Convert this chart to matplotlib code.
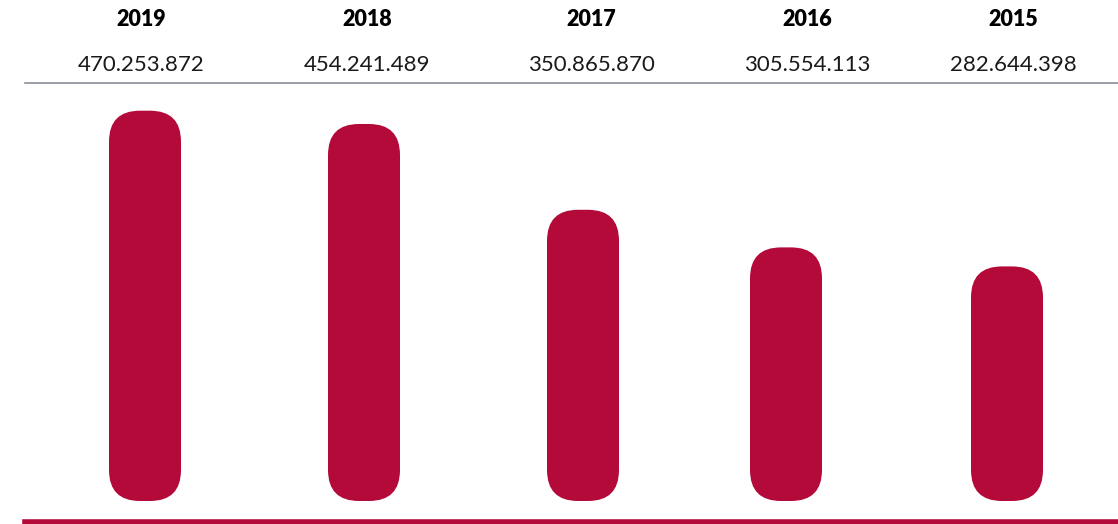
import matplotlib
matplotlib.use("Agg")
from matplotlib import pyplot as plt
from matplotlib.patches import FancyBboxPatch

years = ["2019", "2018", "2017", "2016", "2015"]
values = [470253872, 454241489, 350865870, 305554113, 282644398]

W, H = 1118, 524
red = "#b30a3a"

# layout in pixels
bar_x = [145, 364, 583, 786, 1007]
label_x = [141, 367, 591, 807, 1013]
bar_w = 72
base_px = 23          # bar bottom, from the figure bottom
px_per_unit = 0.83e-6  # pixels per value unit

fig = plt.figure(figsize=(W / 100, H / 100), dpi=100)
ax = fig.add_axes([0, 0, 1, 1])
ax.set_xlim(0, W)
ax.set_ylim(-base_px / px_per_unit, (H - base_px) / px_per_unit)
ax.axis("off")

# draw bars, then swap them for rounded ones
bars = ax.bar(bar_x, values, width=bar_w, color=red)
aspect = 1 / px_per_unit
for b in bars:
    x0, y0 = b.get_x(), b.get_y()
    w, h = b.get_width(), b.get_height()
    b.set_visible(False)
    ax.add_patch(FancyBboxPatch((x0, y0), w, h,
                                boxstyle="round,pad=0,rounding_size=31",
                                mutation_aspect=aspect,
                                facecolor=red, edgecolor="none"))

# header labels
for i, yr in enumerate(years):
    fig.text(label_x[i] / W, 1 - 19 / H, yr, ha="center", va="center",
             fontsize=15.5, fontweight="heavy", family=["Lato", "DejaVu Sans"], color="#000000")
    txt = f"{values[i]:,}".replace(",", ".")
    fig.text(label_x[i] / W, 1 - 65 / H, txt, ha="center", va="center",
             fontsize=16, fontweight="normal", family=["Lato", "DejaVu Sans"], color="#1a1a1a")

# separator lines
fig.add_artist(plt.Line2D([25 / W, 1], [1 - 83 / H] * 2, color="#8a9099", lw=1.2))
fig.add_artist(plt.Line2D([25 / W, 1], [1 - 521.5 / H] * 2, color=red, lw=4))

fig.savefig("out.png", dpi=100)
